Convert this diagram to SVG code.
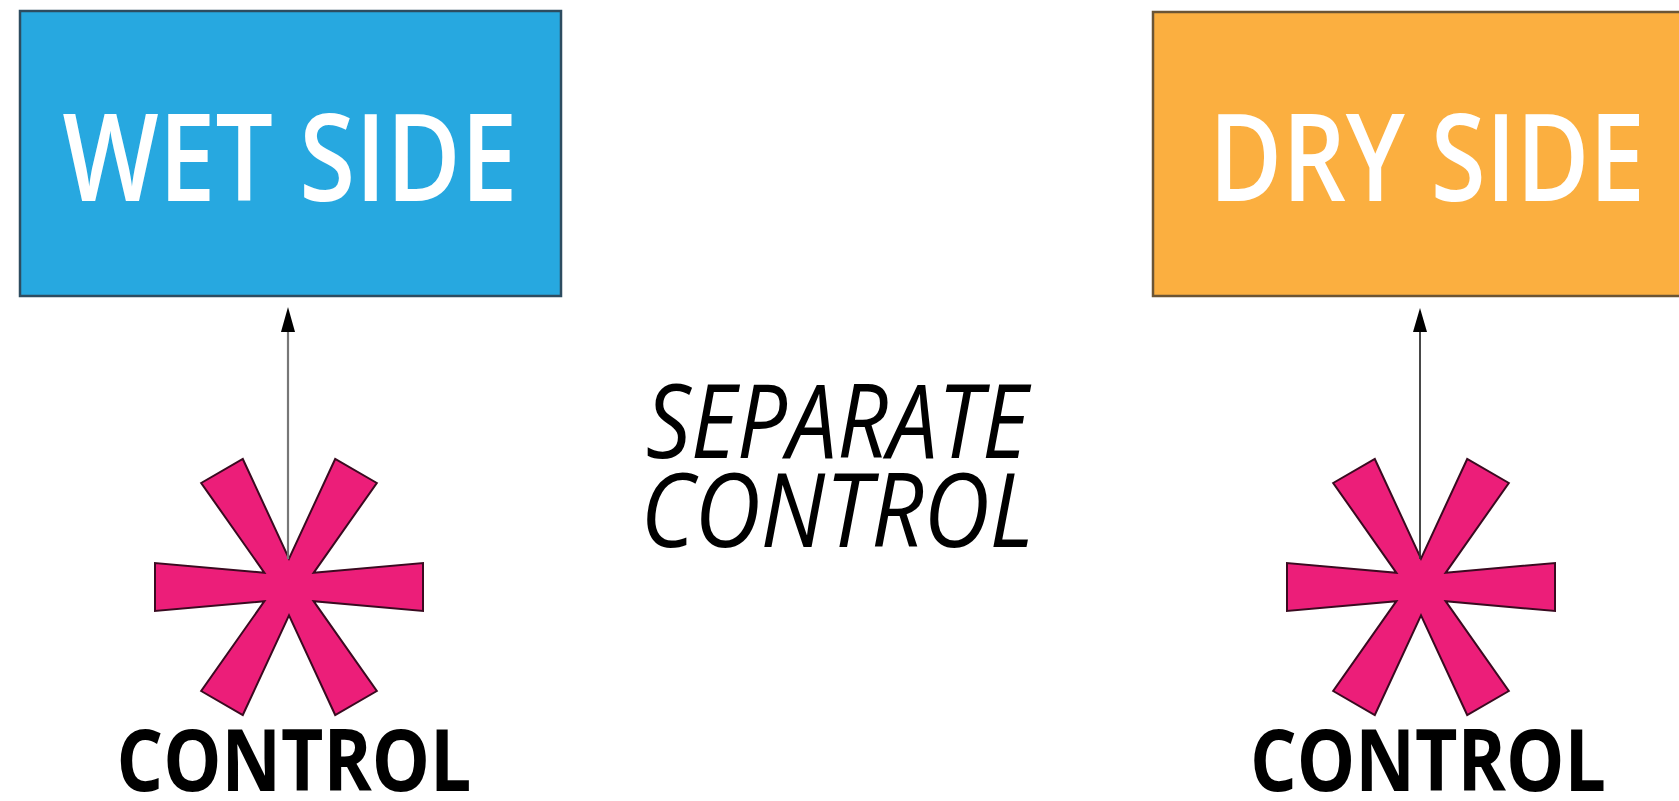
<svg xmlns="http://www.w3.org/2000/svg" width="1679" height="801" viewBox="0 0 1679 801">
<style>
.box-text{font-family:"Open Sans","Liberation Sans",sans-serif;font-weight:600;fill:#ffffff;font-size:121px}
.ctl{font-family:"Open Sans","Liberation Sans",sans-serif;font-weight:700;fill:#000000;font-size:86px}
.sep{font-family:"Open Sans","Liberation Sans",sans-serif;font-style:italic;font-weight:400;fill:#000000;font-size:102px}
.star{fill:#EC1E79;stroke:#3a0a20;stroke-width:2;stroke-linejoin:miter}
</style>
<defs>
<path id="ast" d="M24.6,-14.2 L134,-24 L134,24 L24.6,14.2 L87.8,104 L46.2,128 L0,28.4 L-46.2,128 L-87.8,104 L-24.6,14.2 L-134,24 L-134,-24 L-24.6,-14.2 L-87.8,-104 L-46.2,-128 L0,-28.4 L46.2,-128 L87.8,-104 Z"/>
</defs>
<rect width="1679" height="801" fill="#ffffff"/>
<g id="wet-side">
<rect x="20" y="11" width="541" height="285" fill="#27A8E0" stroke="#2d4c60" stroke-width="2.5"/>
<text class="box-text" x="290" y="201" text-anchor="middle" textLength="455" lengthAdjust="spacingAndGlyphs">WET SIDE</text>
</g>
<g id="dry-side">
<rect x="1153" y="12" width="540" height="284" fill="#FBAF40" stroke="#6b5535" stroke-width="2.5"/>
<text class="box-text" x="1427" y="201" text-anchor="middle" textLength="436" lengthAdjust="spacingAndGlyphs">DRY SIDE</text>
</g>
<g id="separate-control">
<text class="sep" x="837" y="458" text-anchor="middle" textLength="382" lengthAdjust="spacingAndGlyphs">SEPARATE</text>
<text class="sep" x="837" y="547" text-anchor="middle" textLength="393" lengthAdjust="spacingAndGlyphs">CONTROL</text>
</g>
<g id="wet-control">
<use href="#ast" class="star" transform="translate(289,587)"/>
<text class="ctl" x="294" y="791" text-anchor="middle" textLength="355" lengthAdjust="spacingAndGlyphs">CONTROL</text>
</g>
<g id="dry-control">
<use href="#ast" class="star" transform="translate(1421,587)"/>
<text class="ctl" x="1428" y="791" text-anchor="middle" textLength="356" lengthAdjust="spacingAndGlyphs">CONTROL</text>
</g>
<g id="connectors">
<line x1="288" y1="559" x2="288" y2="330" stroke="#777777" stroke-width="2.2"/>
<path d="M288,307 L281,332 L295,332 Z" fill="#000"/>
<line x1="1420" y1="559" x2="1420" y2="330" stroke="#333333" stroke-width="1.8"/>
<path d="M1420,308 L1413,332 L1427,332 Z" fill="#000"/>
</g>
</svg>
